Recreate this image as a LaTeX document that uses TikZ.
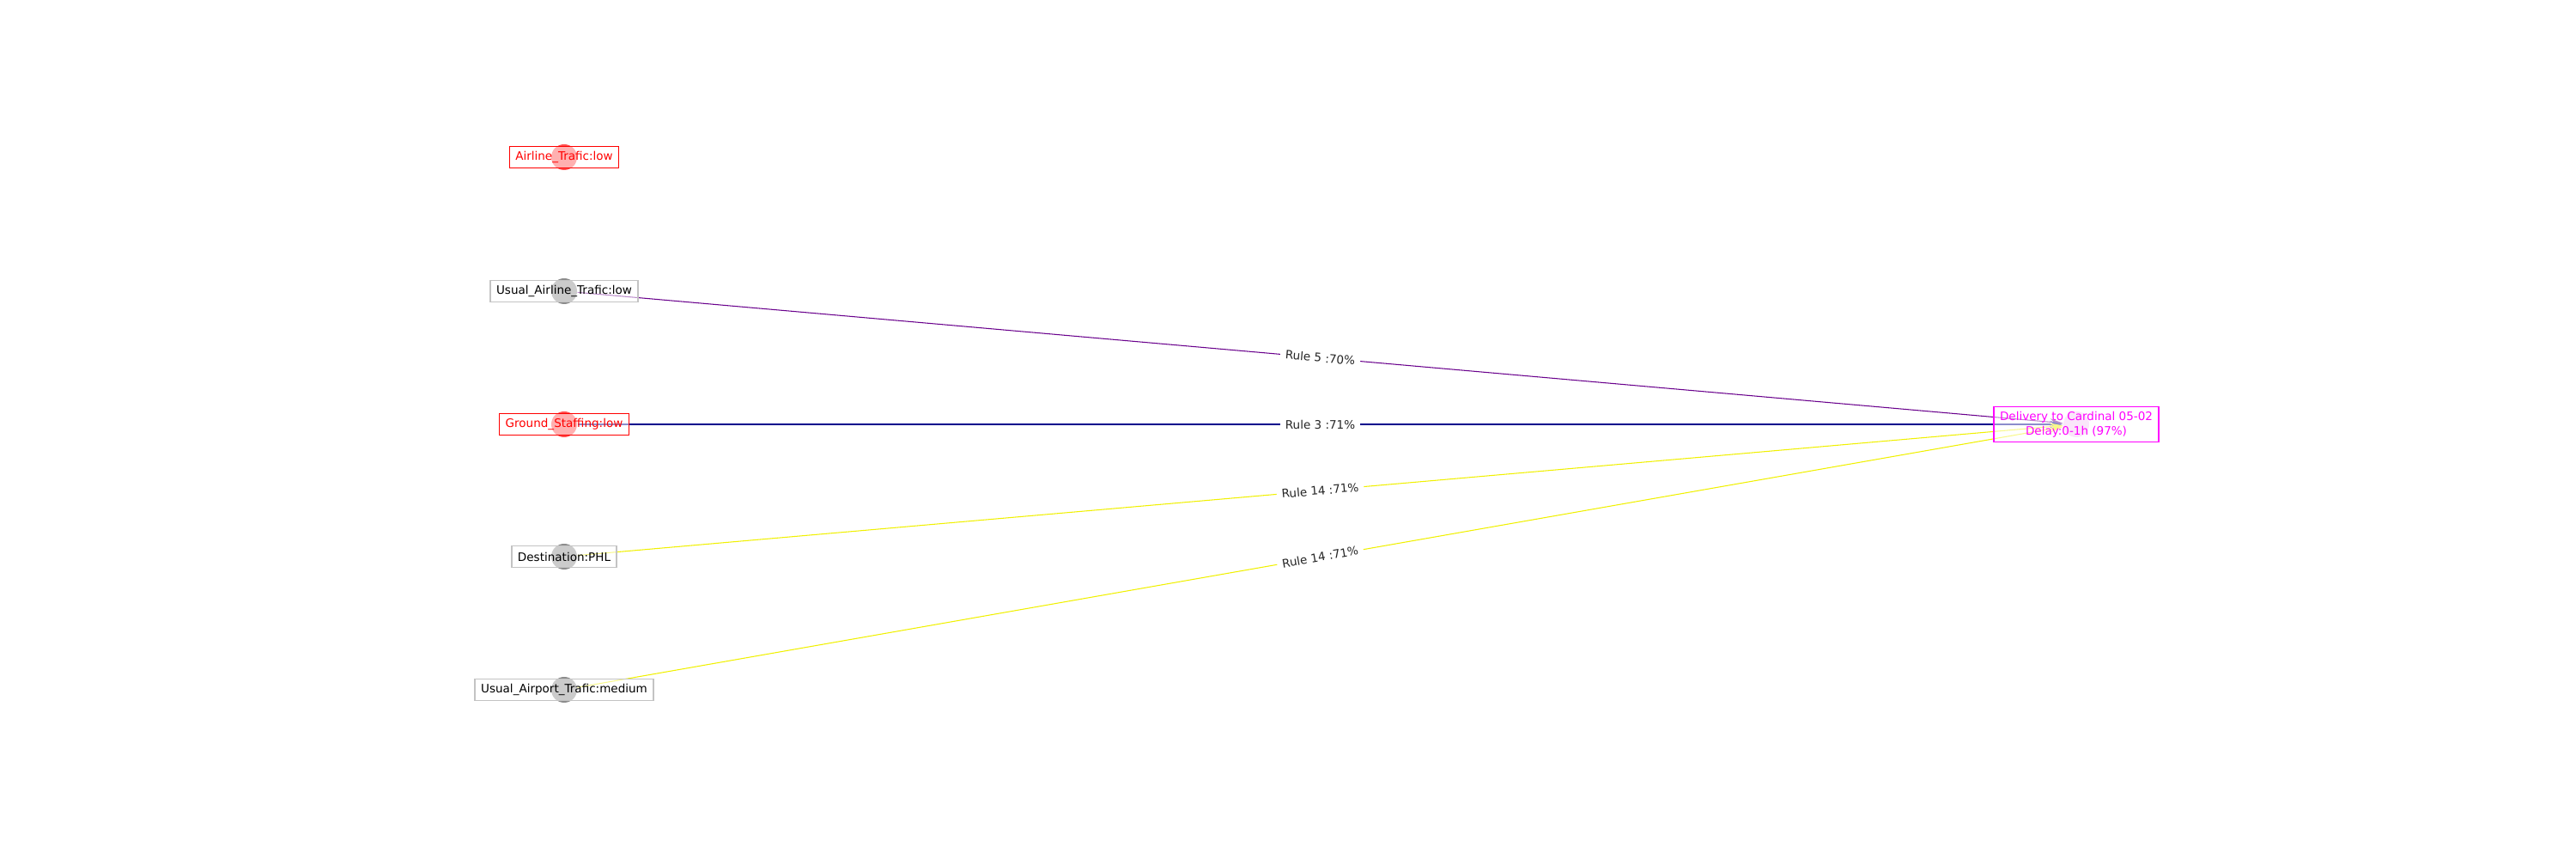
\documentclass[tikz,border=0pt]{standalone}
\usepackage{fontspec}
\setmainfont{DejaVu Sans}
\usetikzlibrary{arrows.meta}

\definecolor{ruleviolet}{RGB}{105,0,140}
\definecolor{rulenavy}{RGB}{0,0,140}
\definecolor{ruleyellow}{RGB}{240,240,0}
\definecolor{spotred}{RGB}{255,80,80}
\definecolor{spotgray}{RGB}{140,140,140}
\definecolor{spotpink}{RGB}{245,200,245}
\definecolor{boxgray}{RGB}{195,195,195}
\definecolor{factred}{RGB}{255,0,0}
\definecolor{factmagenta}{RGB}{255,0,255}

\tikzset{
  dot/.style={circle, minimum size=0.3cm, inner sep=0pt, fill=#1},
  factbox/.style={draw=#1, text=#1, line width=0.4pt, fill=white, fill opacity=0.55,
    text opacity=1, inner xsep=0.07cm, inner ysep=0pt, minimum height=0.25cm,
    align=center, font=\fontsize{3.85}{4.8}\selectfont},
  rule/.style={line width=0.3pt, -{Stealth[length=0.15cm,width=0.08cm]}},
  rulelabel/.style={midway, sloped, fill=white, inner sep=0.06cm, text=black!85,
    font=\fontsize{3.85}{4.8}\selectfont}
}

\begin{document}
\begin{tikzpicture}
  \useasboundingbox (0,0) rectangle (30,10);

  % Fact spots
  \node[dot=spotred]  (s1) at (6.57,8.17) {};
  \node[dot=spotgray] (s2) at (6.57,6.61) {};
  \node[dot=spotred]  (s3) at (6.57,5.06) {};
  \node[dot=spotgray] (s4) at (6.57,3.52) {};
  \node[dot=spotgray] (s5) at (6.57,1.97) {};
  \node[dot=spotpink] (st) at (24.18,5.06) {};

  % Rules
  \draw[rule, ruleviolet] (s2) -- (st) node[rulelabel] (r5) {Rule 5 :70\%};
  \draw[rule, rulenavy] (s3) -- (st) node[rulelabel] (r3) {Rule 3 :71\%};
  \draw[rule, ruleyellow] (s4) -- (st) node[rulelabel] (r14a) {Rule 14 :71\%};
  \draw[rule, ruleyellow] (s5) -- (st) node[rulelabel] (r14b) {Rule 14 :71\%};

  % Fact labels
  \node[factbox=factred]     (f1) at (s1) {Airline\_Trafic:low};
  \node[factbox=boxgray, text=black] (f2) at (s2) {Usual\_Airline\_Trafic:low};
  \node[factbox=factred]     (f3) at (s3) {Ground\_Staffing:low};
  \node[factbox=boxgray, text=black] (f4) at (s4) {Destination:PHL};
  \node[factbox=boxgray, text=black] (f5) at (s5) {Usual\_Airport\_Trafic:medium};

  % Outcome
  \node[factbox=factmagenta, minimum height=0.41cm] (ft) at (st) {Delivery to Cardinal 05-02\\Delay:0-1h (97\%)};
\end{tikzpicture}
\end{document}
